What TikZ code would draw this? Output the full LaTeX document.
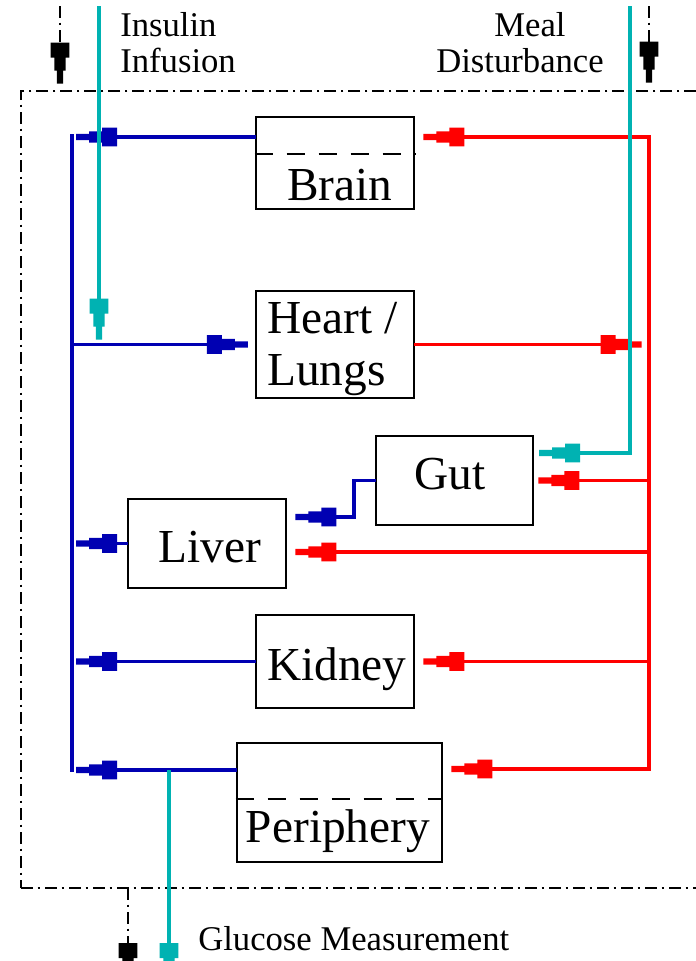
\documentclass[tikz,border=0pt]{standalone}
\usepackage{fontspec}
\setmainfont{Liberation Serif}
\usetikzlibrary{arrows.meta,fit}
\definecolor{bl}{RGB}{0,0,178}
\definecolor{rd}{RGB}{255,0,0}
\definecolor{tl}{RGB}{0,178,178}
\pgfdeclarearrow{
  name=Stp,
  parameters={},
  setup code={
    \pgfarrowssettipend{0pt}
    \pgfarrowssetlineend{-12pt}
    \pgfarrowssetvisualbackend{-30.75pt}
    \pgfarrowssetbackend{-30.75pt}
    \pgfarrowshullpoint{0pt}{2.4pt}
    \pgfarrowshullpoint{0pt}{-2.4pt}
    \pgfarrowshullpoint{-30.75pt}{7pt}
    \pgfarrowshullpoint{-30.75pt}{-7pt}
  },
  drawing code={
    \pgfpathmoveto{\pgfqpoint{0pt}{2.4pt}}
    \pgfpathlineto{\pgfqpoint{-9.75pt}{2.4pt}}
    \pgfpathlineto{\pgfqpoint{-9.75pt}{4.3pt}}
    \pgfpathlineto{\pgfqpoint{-19.5pt}{4.3pt}}
    \pgfpathlineto{\pgfqpoint{-19.5pt}{7pt}}
    \pgfpathlineto{\pgfqpoint{-30.75pt}{7pt}}
    \pgfpathlineto{\pgfqpoint{-30.75pt}{-7pt}}
    \pgfpathlineto{\pgfqpoint{-19.5pt}{-7pt}}
    \pgfpathlineto{\pgfqpoint{-19.5pt}{-4.3pt}}
    \pgfpathlineto{\pgfqpoint{-9.75pt}{-4.3pt}}
    \pgfpathlineto{\pgfqpoint{-9.75pt}{-2.4pt}}
    \pgfpathlineto{\pgfqpoint{0pt}{-2.4pt}}
    \pgfpathclose
    \pgfusepathqfill
  }
}
\tikzset{
  organ/.style={draw=black, line width=2.2pt, inner sep=0pt},
  divider/.style={draw=black, line width=2.2pt, dash pattern=on 13.5pt off 10.5pt},
  sysframe/.style={draw=black, line width=2.2pt, inner sep=0pt, dash pattern=on 9pt off 3.5pt on 2pt off 3.5pt},
  ddarrow/.style={color=black, line width=2.2pt, dash pattern=on 9pt off 3.5pt on 2pt off 3.5pt, -Stp},
  bline/.style={color=bl, line width=2.3pt, line cap=rect},
  rline/.style={color=rd, line width=2.3pt, line cap=rect},
  tline/.style={color=tl, line width=2.6pt},
  ar/.style={-Stp},
  outlbl/.style={font=\fontsize{26}{27}\selectfont, inner sep=0pt},
  orglbl/.style={font=\fontsize{35.5}{41}\selectfont, inner sep=0pt}
}
\begin{document}
\begin{tikzpicture}[x=0.75pt,y=-0.75pt]
\useasboundingbox (0,0) rectangle (696,961);
\clip (0,0) rectangle (696,961);
\fill[white] (0,0) rectangle (696,961);

% system frame
\node[sysframe, fit={(21,91) (740,888)}] (sys) {};

% organ boxes
\node[organ, fit={(256,117) (414,209)}] (brain) {};
\node[organ, fit={(256,291) (414,398)}] (heart) {};
\node[organ, fit={(376,436) (533,525)}] (gut) {};
\node[organ, fit={(128,499) (286,588)}] (liver) {};
\node[organ, fit={(256,615) (414,708)}] (kidney) {};
\node[organ, fit={(237,743) (442,862)}] (peri) {};

\draw[divider] (brain.west |- 0,154) -- (brain.east |- 0,154);
\draw[divider] (peri.west |- 0,799) -- (peri.east |- 0,799);

% organ labels
\node[orglbl, anchor=base] (tbrain) at (340,200) {Brain};
\node[orglbl, anchor=base west] (theart) at (267,333) {Heart /};
\node[orglbl, anchor=base west] (tlungs) at (267,385) {Lungs};
\node[orglbl, anchor=base] (tgut) at (450,489) {Gut};
\node[orglbl, anchor=base] (tliver) at (210,562) {Liver};
\node[orglbl, anchor=base west] (tkid) at (267,680) {Kidney};
\node[orglbl, anchor=base] (tperi) at (338,842) {Periphery};

% outside labels
\node[outlbl, anchor=base west] (tins1) at (120,36) {Insulin};
\node[outlbl, anchor=base west] (tins2) at (120,72) {Infusion};
\node[outlbl, anchor=base] (tmeal1) at (530,36) {Meal};
\node[outlbl, anchor=base] (tmeal2) at (520,72) {Disturbance};
\node[outlbl, anchor=base west] (tglu) at (198,950) {Glucose Measurement};

% coordinates
\coordinate (busT) at (72,136);
\coordinate (busB) at (72,770);
\coordinate (rbusT) at (649,137);
\coordinate (rbusB) at (649,769);
\coordinate (ins) at (99,6);
\coordinate (meal) at (630,6);
\coordinate (gj) at (169,770);
\coordinate (gend) at (169,984);
\coordinate (u1) at (60,6);
\coordinate (u2) at (649,6);
\coordinate (y1) at (128,888);
\coordinate (yend) at (128,984);

% black dash-dot signal arrows
\draw[ddarrow, shorten >=4.5pt] (u1) -- (u1 |- sys.north);
\draw[ddarrow, shorten >=5.25pt] (u2) -- (u2 |- sys.north);
\draw[ddarrow] (y1) -- (yend);

% blue bus and blue branches
\draw[bline] (busT) -- (busB);
\draw[bline, ar, shorten >=3pt] (brain.west |- 0,137) -- (busT |- 0,137);
\draw[bline, ar, shorten >=5pt] (busT |- heart.west) -- (heart.west);
\draw[bline, ar, shorten >=3pt] (liver.west) -- (busT |- liver.west);
\draw[bline, ar, shorten >=3pt] (kidney.west) -- (busT |- kidney.west);
\draw[bline, ar, shorten >=3pt] (peri.west |- busB) -- (busB);
\draw[bline, ar, shorten >=6pt] (gut.west) -| (354,517) -- (liver.east |- 0,517);

% red bus and red branches
\draw[rline, ar, shorten >=6pt] (rbusB) -- (rbusT) -- (brain.east |- rbusT);
\draw[rline, ar, shorten >=6pt] (rbusB) -- (peri.east |- rbusB);
\draw[rline, ar, shorten >=5.5pt] (heart.east) -- (rbusT |- heart.east);
\draw[rline, ar, shorten >=3pt] (rbusT |- gut.east) -- (gut.east);
\draw[rline, ar, shorten >=6pt] (rbusT |- 0,552) -- (liver.east |- 0,552);
\draw[rline, ar, shorten >=6pt] (rbusT |- kidney.east) -- (kidney.east);

% teal signals
\draw[tline, ar, shorten >=3.75pt] (ins) -- (ins |- heart.west);
\draw[tline, ar, shorten >=3.5pt] (meal) |- (gut.east |- 0,453);
\draw[tline, ar] (gj) -- (gend);
\end{tikzpicture}
\end{document}
